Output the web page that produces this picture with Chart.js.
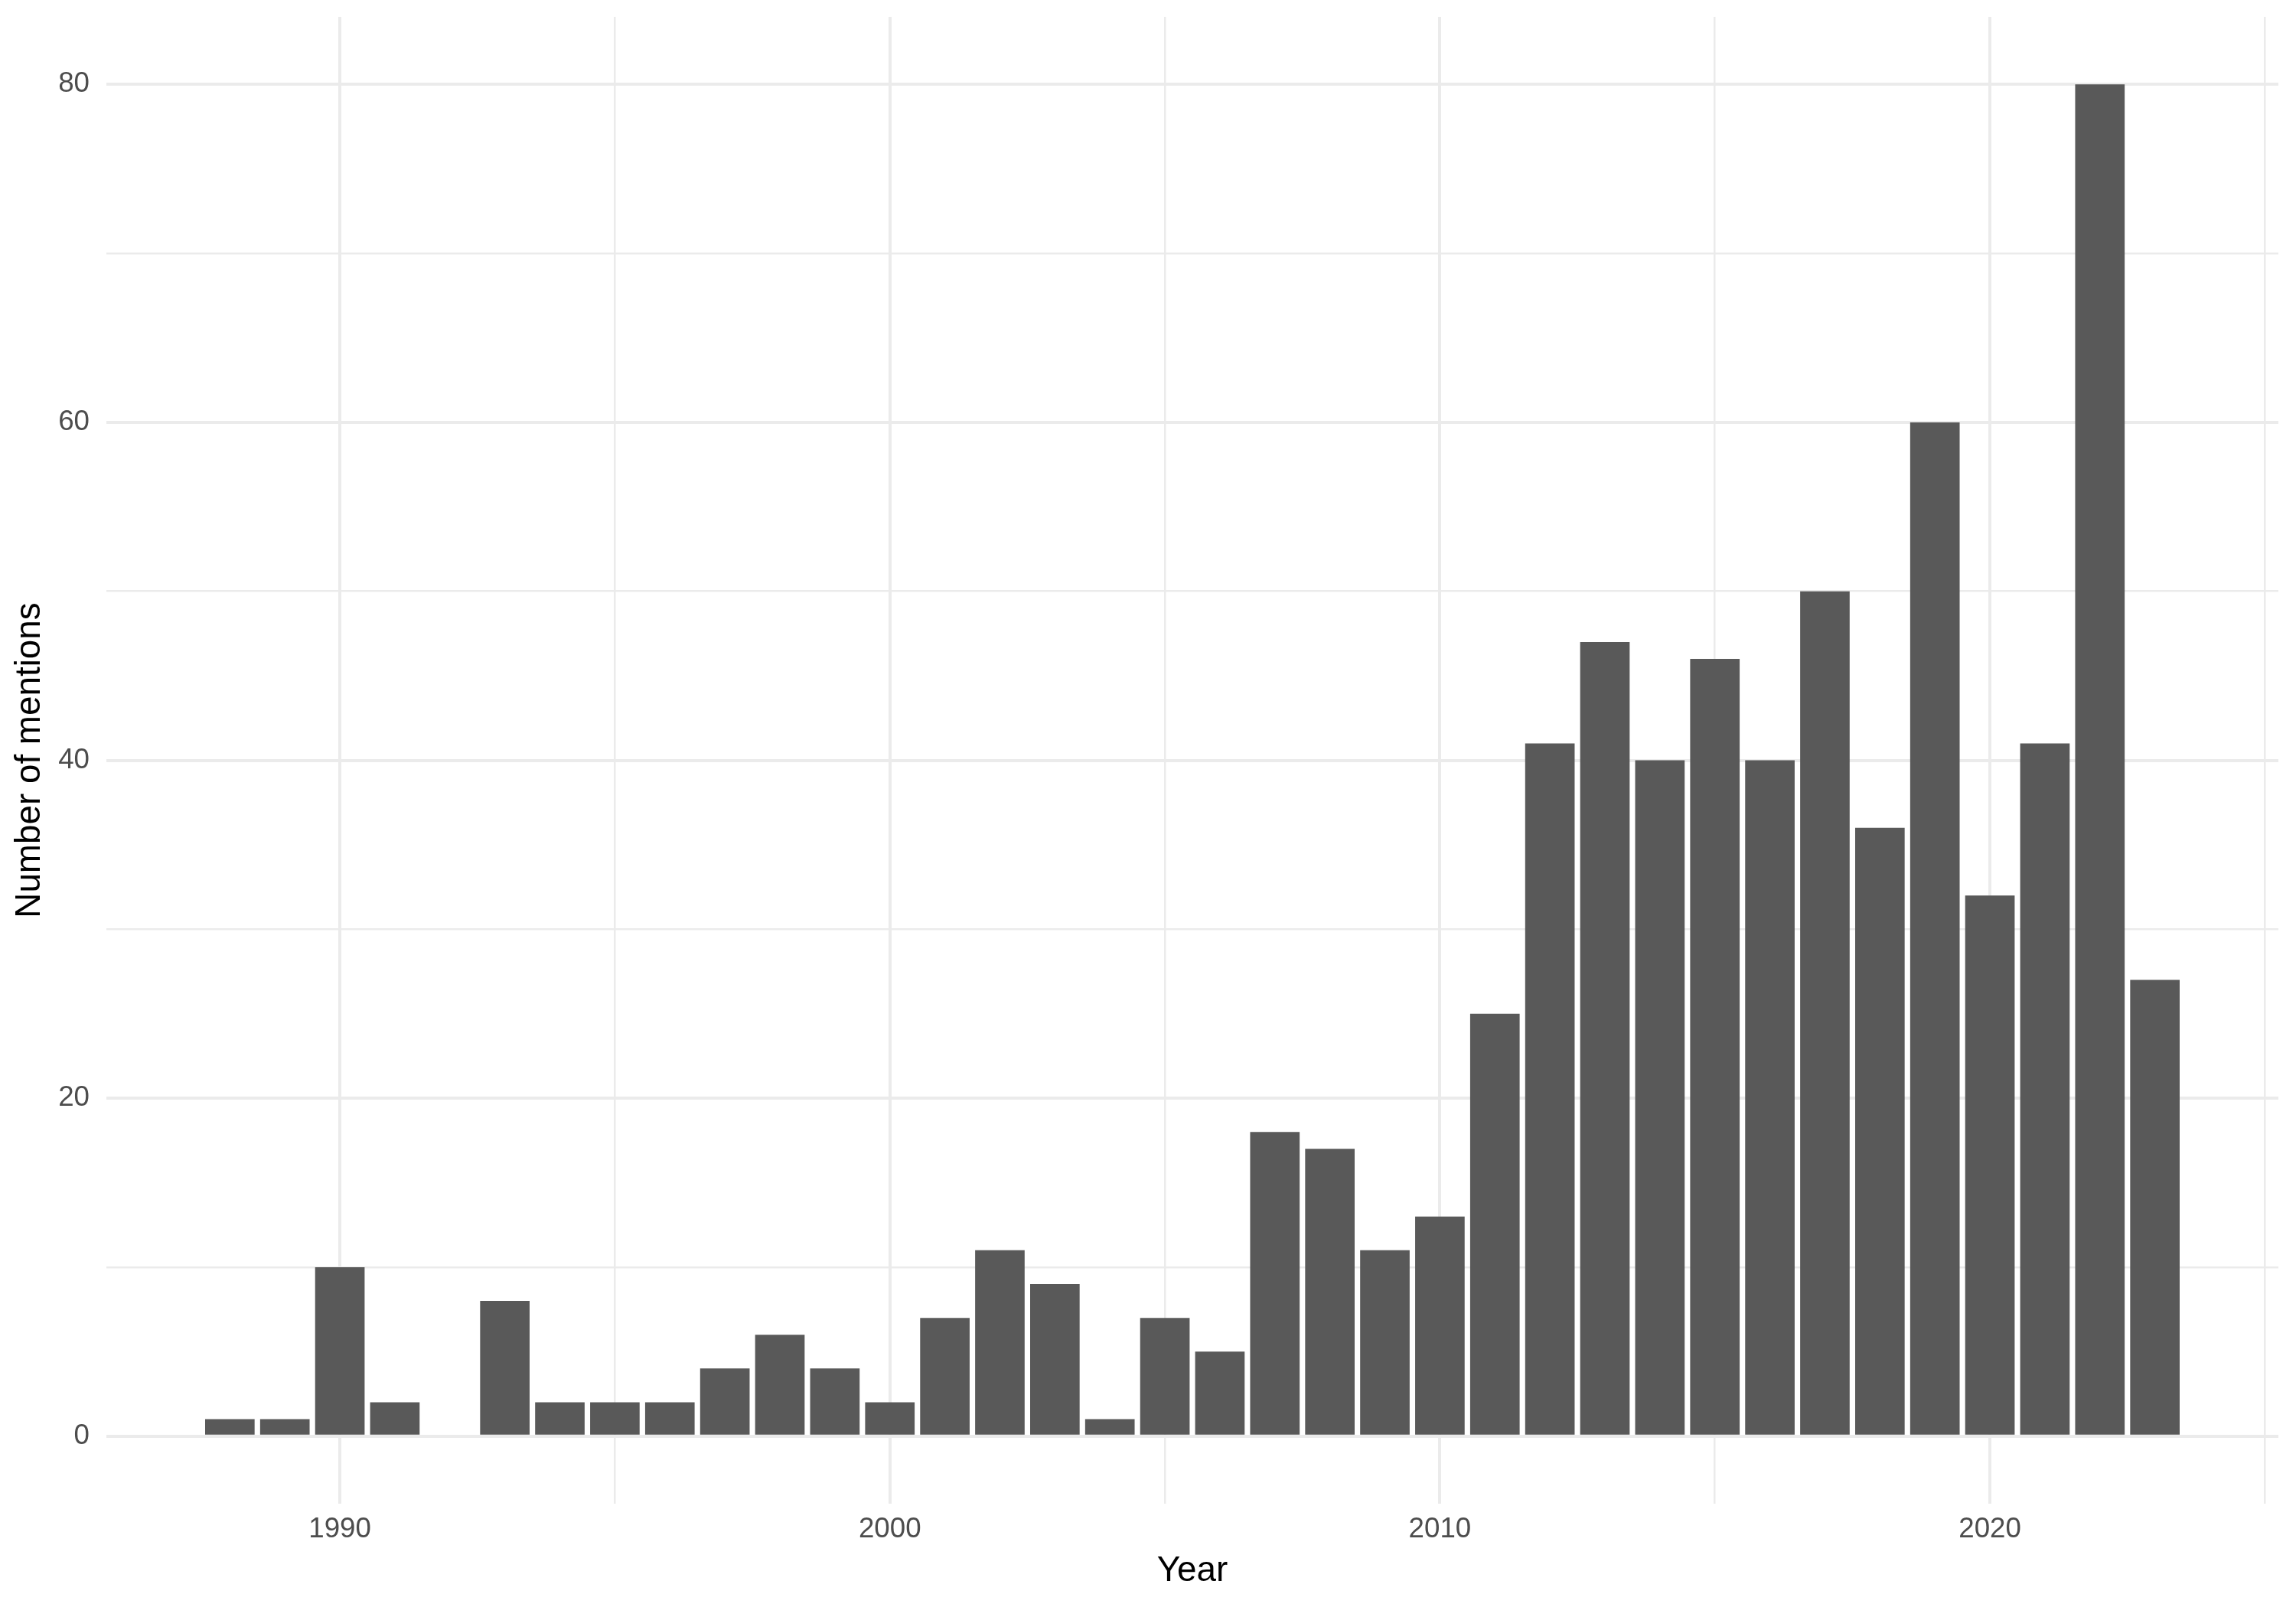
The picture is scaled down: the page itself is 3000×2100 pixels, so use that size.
<!DOCTYPE html>
<html>
<head>
<meta charset="utf-8">
<script src="https://cdn.jsdelivr.net/npm/chart.js@4/dist/chart.umd.min.js"></script>
<style>
  html, body { margin: 0; padding: 0; background: #ffffff; }
  #wrap { width: 3000px; height: 2100px; }
</style>
</head>
<body>
<div id="wrap"><canvas id="chart" width="3000" height="2100"></canvas></div>
<script>
    "use strict";

    // Data (1992 has no bar)
    var years    = [1988, 1989, 1990, 1991, 1993, 1994, 1995, 1996, 1997, 1998, 1999, 2000, 2001, 2002, 2003, 2004, 2005, 2006,
                    2007, 2008, 2009, 2010, 2011, 2012, 2013, 2014, 2015, 2016, 2017, 2018, 2019, 2020, 2021, 2022, 2023];
    var mentions = [1, 1, 10, 2, 8, 2, 2, 2, 4, 6, 4, 2, 7, 11, 9, 1, 7, 5,
                    18, 17, 11, 13, 25, 41, 47, 40, 46, 40, 50, 36, 60, 32, 41, 80, 27];

    // Axis breaks
    var xTicks = [1990, 1995, 2000, 2005, 2010, 2015, 2020, 2025];
    var xLabelTicks = [1990, 2000, 2010, 2020];
    var yTicks = [0, 10, 20, 30, 40, 50, 60, 70, 80];
    var yLabelTicks = [0, 20, 40, 60, 80];

    var gridColor = "#EBEBEB";
    var fontFamily = "'Liberation Sans', Arial, sans-serif";

    // ggplot style expansion: 5% around the bar extent
    var barWidth = 0.9;
    var xLo = years[0] - barWidth / 2, xHi = years[years.length - 1] + barWidth / 2;
    var xPad = (xHi - xLo) * 0.05;
    var yMax = Math.max.apply(null, mentions);

    var points = years.map(function (y, i) { return {x: y, y: mentions[i]}; });

    var ctx = document.getElementById("chart").getContext("2d");
    var myChart = new Chart(ctx, {
        type: "bar",
        data: {
            datasets: [{
                data: points,
                backgroundColor: "#595959",
                borderWidth: 0,
                barPercentage: barWidth,
                categoryPercentage: 1.0
            }]
        },
        options: {
            responsive: false,
            animation: false,
            layout: { padding: { left: 0, right: 23, top: 22, bottom: 0 } },
            plugins: {
                legend: { display: false },
                tooltip: { enabled: false }
            },
            scales: {
                x: {
                    type: "linear",
                    offset: false,
                    min: xLo - xPad,
                    max: xHi + xPad,
                    afterBuildTicks: function (scale) {
                        scale.ticks = xTicks.map(function (v) { return {value: v}; });
                    },
                    afterFit: function (scale) {
                        scale.height = 135;
                        scale.paddingLeft = 0;
                        scale.paddingRight = 0;
                    },
                    grid: {
                        offset: false,
                        color: gridColor,
                        drawTicks: false,
                        lineWidth: function (c) {
                            return xLabelTicks.indexOf(c.tick.value) >= 0 ? 4 : 2.5;
                        }
                    },
                    border: { display: false },
                    ticks: {
                        autoSkip: false,
                        maxRotation: 0,
                        padding: 12,
                        color: "#4D4D4D",
                        font: { family: fontFamily, size: 36.7 },
                        callback: function (v) {
                            return xLabelTicks.indexOf(v) >= 0 ? String(v) : "";
                        }
                    },
                    title: {
                        display: true,
                        text: "Year",
                        color: "#000000",
                        padding: { top: 0, bottom: 19 },
                        font: { family: fontFamily, size: 45.8 }
                    }
                },
                y: {
                    type: "linear",
                    min: -yMax * 0.05,
                    max: yMax * 1.05,
                    afterBuildTicks: function (scale) {
                        scale.ticks = yTicks.map(function (v) { return {value: v}; });
                    },
                    afterFit: function (scale) {
                        scale.width = 139;
                        scale.paddingTop = 0;
                        scale.paddingBottom = 0;
                    },
                    grid: {
                        color: gridColor,
                        drawTicks: false,
                        lineWidth: function (c) {
                            return yLabelTicks.indexOf(c.tick.value) >= 0 ? 4 : 2.5;
                        }
                    },
                    border: { display: false },
                    ticks: {
                        autoSkip: false,
                        padding: 22,
                        color: "#4D4D4D",
                        font: { family: fontFamily, size: 36.7 },
                        callback: function (v) {
                            return yLabelTicks.indexOf(v) >= 0 ? String(v) : "";
                        }
                    },
                    title: {
                        display: true,
                        text: "Number of mentions",
                        color: "#000000",
                        padding: { top: 12, bottom: 0 },
                        font: { family: fontFamily, size: 45.8 }
                    }
                }
            }
        }
    });
</script>
</body>
</html>
